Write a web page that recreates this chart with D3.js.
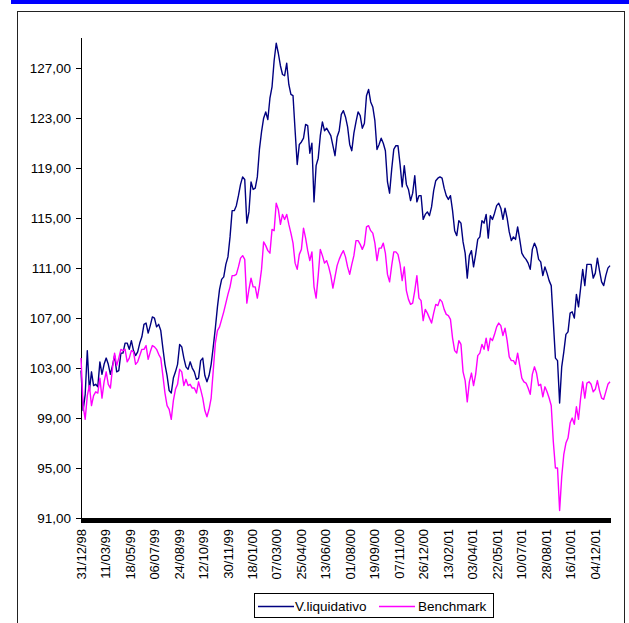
<!DOCTYPE html>
<meta charset="utf-8">
<style>
body { margin: 0; background: #fff; }
svg { display: block; font-family: "Liberation Sans", Arial, sans-serif; }
.axis path, .axis line { stroke: #000; shape-rendering: crispEdges; }
.ylab text { font-size: 13.5px; fill: #000; }
.xlab { font-size: 13px; fill: #000; }
.legend-text { font-size: 13.5px; fill: #000; }
.line { fill: none; stroke-width: 1.4px; stroke-linejoin: round; }
</style>
<svg width="629" height="623"></svg>
<script src="https://d3js.org/d3.v7.min.js"></script>
<script>

  var svg = d3.select("svg"),
      width = +svg.attr("width"),
      height = +svg.attr("height");

  // category axis: one category per quote, labels every 35 categories
  var nCat = 757;
  var labelStep = 35;
  var sampleStep = 3;   // values below are read every 3 categories

  var dateLabels = ["31/12/98","11/03/99","18/05/99","06/07/99","24/08/99","12/10/99",
    "30/11/99","18/01/00","07/03/00","25/04/00","13/06/00","01/08/00","19/09/00",
    "07/11/00","26/12/00","13/02/01","03/04/01","22/05/01","10/07/01","28/08/01",
    "16/10/01","04/12/01"];

  var yTicks = [91, 95, 99, 103, 107, 111, 115, 119, 123, 127];

  var vliq = [
    102.8, 99.6, 100.9, 104.4, 101.2, 102.7, 101.6, 101.7, 101.5, 103.5,
    102.5, 103.3, 103.8, 103.3, 102.5, 103.2, 104.0, 102.7, 102.8, 104.2,
    104.2, 105.0, 105.0, 104.5, 105.2, 104.4, 104.0, 104.3, 105.0, 105.5,
    106.5, 106.6, 105.8, 106.4, 107.1, 107.0, 106.3, 106.5, 106.0, 104.6,
    103.3, 102.4, 101.2, 101.0, 102.2, 102.7, 103.3, 104.9, 104.7, 103.8,
    103.1, 102.9, 103.5, 103.0, 102.7, 102.1, 102.2, 103.6, 103.8, 102.4,
    101.9, 102.4, 103.3, 104.7, 106.2, 107.9, 109.3, 110.1, 110.3, 111.3,
    111.9, 113.5, 115.6, 115.6, 116.0, 116.8, 117.7, 118.3, 118.1, 114.6,
    115.5, 117.9, 117.3, 117.4, 118.3, 120.5, 121.9, 123.0, 123.5, 122.9,
    124.6, 125.5, 127.6, 129.0, 128.2, 127.2, 126.5, 126.4, 127.4, 125.7,
    124.9, 124.8, 122.0, 119.3, 120.9, 121.1, 121.4, 122.5, 122.4, 120.2,
    121.0, 116.3, 119.2, 119.8, 121.6, 122.7, 122.0, 122.2, 121.9, 121.6,
    120.8, 120.0, 121.5, 122.0, 123.3, 123.6, 123.1, 122.3, 120.9, 120.4,
    121.8, 122.7, 123.5, 123.2, 122.2, 122.6, 124.8, 125.3, 124.3, 123.9,
    122.8, 120.5, 120.9, 121.4, 121.0, 120.4, 117.9, 117.0, 118.9, 120.5,
    120.8, 120.8, 119.3, 117.5, 119.2, 117.7, 117.3, 116.4, 117.0, 118.4,
    116.3, 116.8, 116.8, 114.9, 115.3, 115.5, 115.2, 115.9, 117.2, 118.0,
    118.2, 118.3, 118.2, 117.4, 116.8, 116.5, 116.8, 115.6, 114.0, 113.6,
    114.8, 114.6, 113.1, 112.2, 110.2, 112.0, 112.4, 111.1, 112.1, 113.3,
    113.5, 114.8, 114.6, 115.3, 113.4, 115.2, 114.9, 115.4, 116.0, 116.2,
    115.8, 114.9, 115.8, 115.0, 113.9, 113.2, 113.5, 113.3, 114.3, 113.3,
    112.2, 111.9, 111.7, 111.4, 110.9, 112.5, 113.0, 112.6, 111.7, 111.5,
    110.4, 111.1, 110.6, 110.0, 109.6, 106.7, 103.8, 103.6, 100.2, 103.1,
    104.3, 105.7, 105.9, 107.4, 107.5, 107.0, 108.9, 107.9, 109.4, 110.9,
    109.6, 111.3, 111.3, 111.3, 110.2, 110.6, 111.8, 110.8, 109.9, 109.6,
    110.4, 111.0, 111.2
  ];

  var bench = [
    103.8, 100.0, 98.9, 100.8, 101.6, 100.0, 100.8, 101.1, 101.0, 102.2,
    100.6, 101.9, 102.7, 101.7, 101.4, 103.0, 104.2, 103.2, 103.8, 104.5,
    104.4, 104.5, 103.5, 103.8, 104.4, 104.3, 103.3, 103.5, 104.0, 104.5,
    104.5, 104.8, 103.7, 104.3, 104.8, 104.7, 104.5, 104.1, 103.8, 102.4,
    101.0, 100.0, 99.7, 98.9, 100.4, 101.3, 101.7, 102.9, 102.7, 101.6,
    102.1, 101.6, 101.7, 101.4, 101.4, 101.0, 101.9, 101.3, 100.6, 99.6,
    99.1, 99.7, 100.6, 102.8, 105.0, 106.0, 106.3, 106.9, 107.5, 108.2,
    108.9, 109.5, 110.4, 110.4, 110.5, 111.1, 111.8, 112.0, 111.7, 108.2,
    109.3, 110.2, 109.5, 109.5, 108.6, 109.6, 110.9, 113.1, 112.8, 112.4,
    112.2, 114.1, 114.0, 116.2, 115.7, 114.5, 115.3, 114.9, 115.3, 114.5,
    113.8, 113.0, 111.4, 110.9, 112.1, 112.5, 114.2, 113.4, 112.4, 111.6,
    112.3, 109.5, 108.6, 110.4, 112.5, 112.0, 111.4, 111.6, 111.1, 110.4,
    109.4, 110.3, 111.2, 111.7, 112.1, 112.4, 111.9, 111.1, 110.5, 111.3,
    112.0, 113.2, 113.2, 112.9, 112.5, 112.9, 114.3, 114.4, 114.0, 113.8,
    113.0, 111.6, 112.6, 112.6, 113.0, 112.2, 110.5, 109.9, 111.2, 112.3,
    112.3, 112.1, 111.3, 110.0, 111.1, 109.2, 108.5, 108.1, 108.2, 109.2,
    110.4, 108.6, 108.4, 106.8, 107.7, 107.4, 107.0, 106.6, 107.4, 108.1,
    108.0, 108.5, 108.3, 107.7, 107.3, 107.2, 106.9, 105.4, 104.4, 104.2,
    105.2, 104.9, 102.7, 102.0, 100.3, 101.9, 102.6, 101.6, 102.5, 104.0,
    104.2, 104.9, 104.5, 105.4, 104.4, 105.4, 105.2, 105.7, 106.3, 106.6,
    106.4, 105.6, 106.2, 105.2, 103.9, 103.6, 103.6, 103.3, 104.2, 103.2,
    102.2, 101.9, 101.8, 101.4, 100.9, 102.5, 103.1, 102.6, 101.6, 101.7,
    100.7, 101.5, 101.1, 100.6, 100.0, 97.1, 95.0, 95.0, 91.6, 94.3,
    96.1, 97.0, 97.4, 98.6, 99.0, 98.5, 99.9, 98.9, 100.6, 101.9,
    100.6, 101.8, 101.9, 101.7, 101.1, 101.3, 102.0, 101.2, 100.6, 100.5,
    101.1, 101.7, 101.9
  ];

  var series = [
    {name: "V.liquidativo", values: vliq, color: "#000080"},
    {name: "Benchmark", values: bench, color: "#ff00ff"}
  ];

  // page decoration: blue strip and chart frame
  svg.append("rect")
      .attr("x", 11).attr("y", 0)
      .attr("width", width - 11).attr("height", 4)
      .attr("fill", "#0000ff");

  svg.append("rect")
      .attr("x", 17.5).attr("y", 11.5)
      .attr("width", 607).attr("height", 650)
      .attr("fill", "#fff")
      .attr("stroke", "#222");

  var plot = {left: 81, right: 610, top: 37, bottom: 518};

  var x = d3.scaleLinear()
      .domain([0, nCat - 1])
      .range([plot.left, plot.right]);

  var y = d3.scaleLinear()
      .domain([91, 129.5])
      .range([plot.bottom, plot.top]);

  // y axis
  svg.append("g")
      .attr("class", "axis ylab")
      .attr("transform", "translate(" + plot.left + ",0)")
      .call(d3.axisLeft(y)
        .tickValues(yTicks)
        .tickSize(5)
        .tickSizeOuter(0)
        .tickPadding(5)
        .tickFormat(function(d) { return d.toFixed(2).replace(".", ","); }));

  // x axis: a tick on every category
  svg.append("g")
      .attr("class", "axis")
      .attr("transform", "translate(0," + plot.bottom + ")")
      .call(d3.axisBottom(x)
        .tickValues(d3.range(0, nCat))
        .tickSize(5)
        .tickSizeOuter(0)
        .tickFormat(""));

  svg.append("g")
    .selectAll("text")
    .data(dateLabels)
    .enter().append("text")
      .attr("class", "xlab")
      .attr("transform", function(d, i) {
        return "translate(" + x(i * labelStep) + "," + (plot.bottom + 11) + ") rotate(-90)";
      })
      .attr("text-anchor", "end")
      .attr("dy", "0.35em")
      .text(function(d) { return d; });

  var line = d3.line()
      .x(function(d, k) { return x(k * sampleStep); })
      .y(function(d) { return y(d); });

  svg.append("g")
    .selectAll("path")
    .data(series)
    .enter().append("path")
      .attr("class", "line")
      .attr("stroke", function(d) { return d.color; })
      .attr("d", function(d) { return line(d.values); });

  // legend
  var legend = svg.append("g");
  legend.append("rect")
      .attr("x", 254.5).attr("y", 593.5)
      .attr("width", 239).attr("height", 24)
      .attr("fill", "#fff")
      .attr("stroke", "#000");

  var legendPos = [{lx: 258, tx: 295}, {lx: 379, tx: 418}];
  series.forEach(function(s, i) {
    legend.append("line")
        .attr("x1", legendPos[i].lx).attr("x2", legendPos[i].lx + 36)
        .attr("y1", 606.5).attr("y2", 606.5)
        .attr("stroke", s.color)
        .attr("stroke-width", 1.5);
    legend.append("text")
        .attr("class", "legend-text")
        .attr("x", legendPos[i].tx)
        .attr("y", 606)
        .attr("dy", "0.35em")
        .text(s.name);
  });

</script>
